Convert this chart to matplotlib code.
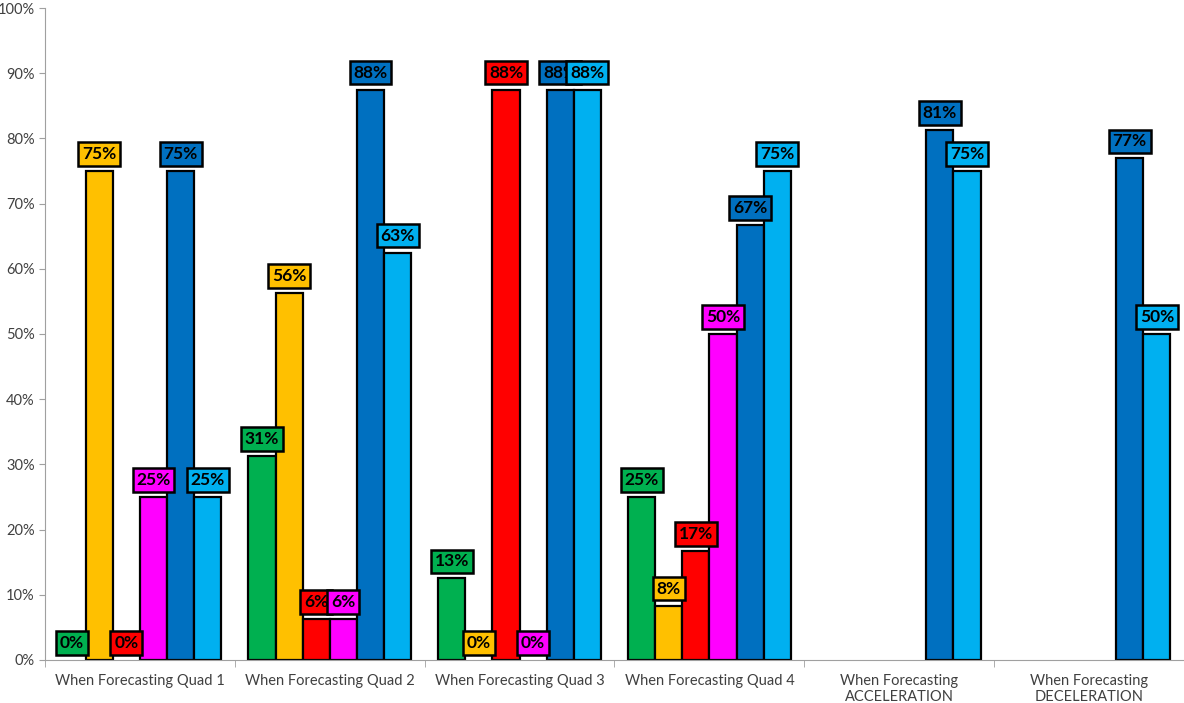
import numpy as np
import matplotlib.pyplot as plt

plt.rcParams['font.family'] = ['Lato', 'DejaVu Sans']

categories = ["When Forecasting Quad 1", "When Forecasting Quad 2",
              "When Forecasting Quad 3", "When Forecasting Quad 4",
              "When Forecasting\nACCELERATION", "When Forecasting\nDECELERATION"]

nan = np.nan
green = [0, 31.25, 12.5, 25, nan, nan]
yellow = [75, 56.25, 0, 8.33, nan, nan]
red = [0, 6.25, 87.5, 16.67, nan, nan]
magenta = [25, 6.25, 0, 50, nan, nan]
dark_blue = [75, 87.5, 87.5, 66.67, 81.25, 76.92]
light_blue = [25, 62.5, 87.5, 75, 75, 50]

series = [green, yellow, red, magenta, dark_blue, light_blue]
colors = ["#00B050", "#FFC000", "#FF0000", "#FF00FF", "#0070C0", "#00B0F0"]

fig = plt.figure(figsize=(11.84, 7.03), dpi=100)
ax = fig.add_axes([0.038, 0.0612, 0.962, 0.9274])

x = np.arange(len(categories))
width = 1 / 7
offsets = (np.arange(len(series)) - (len(series) - 1) / 2) * width

for vals, col, off in zip(series, colors, offsets):
    vals = np.array(vals, dtype=float)
    ok = ~np.isnan(vals) & (vals > 0)
    ax.bar(x[ok] + off, vals[ok], width, color=col, edgecolor="black",
           linewidth=1.6, zorder=2)

# value labels go on top of all bars
for vals, col, off in zip(series, colors, offsets):
    for xi, v in zip(x, vals):
        if np.isnan(v):
            continue
        ax.annotate(f"{int(v + 0.5)}%", (xi + off, v), xytext=(0, 17),
                    textcoords="offset pixels", ha="center", va="center",
                    fontsize=12.5, fontweight="bold", color="black", zorder=5,
                    bbox=dict(boxstyle="square,pad=0.22", fc=col, ec="black", lw=1.8))

ax.set_xlim(-0.5, len(categories) - 0.5)
ax.set_ylim(0, 100)
ax.set_yticks(np.arange(0, 101, 10))
ax.set_yticklabels([f"{t}%" for t in range(0, 101, 10)])
ax.set_xticks(x)
ax.set_xticklabels(categories)
ax.set_xticks(np.arange(-0.5, len(categories) - 0.4, 1), minor=True)
ax.tick_params(axis="x", which="major", length=0, pad=10, labelsize=10.5, labelcolor="#404040")
ax.tick_params(axis="x", which="minor", length=5, color="#A0A0A0")
ax.tick_params(axis="y", length=4, color="#A0A0A0", labelsize=10.5, labelcolor="#404040")

for s in ["top", "right"]:
    ax.spines[s].set_visible(False)
for s in ["left", "bottom"]:
    ax.spines[s].set_color("#A0A0A0")

fig.savefig("out.png", dpi=100)
